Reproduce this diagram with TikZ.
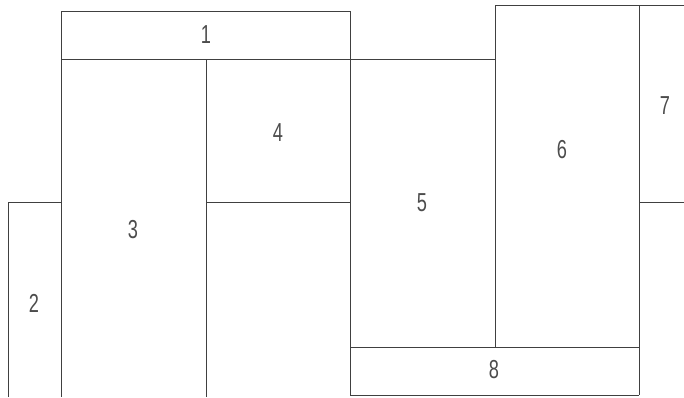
\documentclass[tikz,border=0pt]{standalone}
\usepackage{fontspec}
\newfontfamily\labfont{Liberation Sans}[FakeStretch=0.7]
\begin{document}
\begin{tikzpicture}[x=1pt,y=-1pt,
  wall/.style={draw=black!75,line width=0.9pt},
  lab/.style={font=\labfont\fontsize{26}{26}\selectfont,text=black!70,inner sep=0pt}]
\useasboundingbox (0,0) rectangle (684,397);
% outlines
\draw[wall] (61,11) rectangle (350,59);
\draw[wall] (350,59) -- (495,59);
\draw[wall] (61,59) -- (61,397);
\draw[wall] (206,59) -- (206,397);
\draw[wall] (350,59) -- (350,395);
\draw[wall] (206,202) -- (350,202);
\draw[wall] (8,397) -- (8,202) -- (61,202);
\draw[wall] (495,347) -- (495,5) -- (684,5);
\draw[wall] (639,5) -- (639,395);
\draw[wall] (639,202) -- (684,202);
\draw[wall] (350,347) -- (639,347);
\draw[wall] (350,395) -- (639,395);
% labels
\node[lab] (l1) at (206,35) {1};
\node[lab] (l2) at (34,303) {2};
\node[lab] (l3) at (133,230) {3};
\node[lab] (l4) at (278,133) {4};
\node[lab] (l5) at (422,203) {5};
\node[lab] (l6) at (562,150) {6};
\node[lab] (l7) at (665,106) {7};
\node[lab] (l8) at (494,370) {8};
\end{tikzpicture}
\end{document}
